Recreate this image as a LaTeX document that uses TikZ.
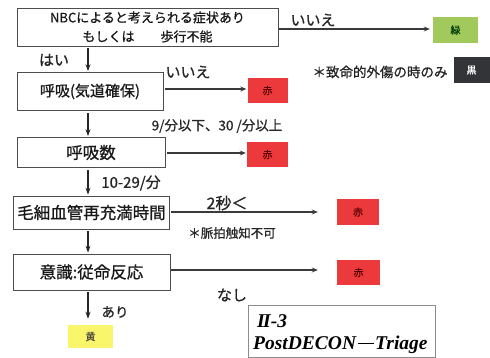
\documentclass[tikz,border=0pt]{standalone}
\usepackage{fontspec}
\setmainfont{Noto Sans CJK JP}[FakeBold=0.9]
\newfontfamily\titlefont{Liberation Serif}
\usetikzlibrary{arrows.meta}
\definecolor{tred}{HTML}{EC3A3C}
\definecolor{tgreen}{HTML}{A2C95B}
\definecolor{tyellow}{HTML}{F9F66B}
\definecolor{tblack}{HTML}{333438}
\definecolor{lnc}{HTML}{3A3A3A}
\begin{document}
\begin{tikzpicture}[x=1pt,y=-1pt,
  box/.style={draw=black!70,line width=0.7pt,inner sep=0pt,text=black!90,font=\fontsize{16.5}{18}\selectfont},
  tag/.style={inner sep=0pt,font=\fontsize{10}{12}\selectfont,minimum height=25pt},
  lab/.style={inner sep=0pt,text=black!85,font=\fontsize{15}{16}\selectfont},
  arr/.style={-{Stealth[length=6pt,width=5pt]},line width=1.2pt,draw=lnc},
  varr/.style={-{Stealth[length=7pt,width=5pt]},line width=1.5pt,draw=black!85}]
\useasboundingbox (0,0) rectangle (490,358);
\coordinate (vx) at (88,0);
% main boxes
\node[box,minimum width=261pt,minimum height=38pt,align=center,font=\fontsize{13}{19}\selectfont] (b1) at (147.5,27) {NBCによると考えられる症状あり\\もしくは　　歩行不能};
\node[box,minimum width=146pt,minimum height=38pt,font=\fontsize{15}{17}\selectfont] (b2) at (90,91.5) {呼吸(気道確保)};
\node[box,minimum width=148pt,minimum height=30pt] (b3) at (91,152.5) {呼吸数};
\node[box,minimum width=156pt,minimum height=33pt] (b4) at (91.5,212.5) {毛細血管再充満時間};
\node[box,minimum width=157pt,minimum height=36pt] (b5) at (91.5,272) {意識:従命反応};
% colour tags
\node[tag,fill=tgreen,minimum width=45pt,minimum height=26pt,text=green!25!black] (green) at (455.5,30) {緑};
\node[tag,fill=tblack,minimum width=36pt,minimum height=26pt,text=white] (blk) at (471.5,70) {黒};
\node[tag,fill=tred,minimum width=40pt,text=red!35!black] (red1) at (267.5,90.5) {赤};
\node[tag,fill=tred,minimum width=41pt,text=red!35!black] (red2) at (267.5,154.5) {赤};
\node[tag,fill=tred,minimum width=42pt,minimum height=26pt,text=red!35!black] (red3) at (358,212) {赤};
\node[tag,fill=tred,minimum width=43pt,text=red!35!black] (red4) at (358.5,272.5) {赤};
\node[tag,fill=tyellow,minimum width=45pt,minimum height=23pt,text=yellow!20!black] (yel) at (90.5,336.5) {黄};
% horizontal arrows
\draw[arr,shorten <=1pt,shorten >=3pt] (b1.east |- 0,29) -- (green.west |- 0,29);
\draw[arr,shorten <=2pt,shorten >=1pt] (b2.east |- 0,89) -- (red1.west |- 0,89);
\draw[arr,shorten <=2pt,shorten >=1pt] (b3.east |- 0,153) -- (red2.west |- 0,153);
\draw[arr,shorten <=1pt,shorten >=19pt] (b4.east |- 0,212) -- (red3.west |- 0,212);
\draw[arr,shorten <=1pt,shorten >=19pt] (b5.east |- 0,270) -- (red4.west |- 0,270);
% vertical arrows
\draw[varr,shorten <=2pt,shorten >=1pt] (b1.south -| vx) -- (b2.north -| vx);
\draw[varr,shorten <=2pt,shorten >=1pt] (b2.south -| vx) -- (b3.north -| vx);
\draw[varr,shorten <=2pt,shorten >=1pt] (b3.south -| vx) -- (b4.north -| vx);
\draw[varr,shorten <=2pt,shorten >=1pt] (b4.south -| vx) -- (b5.north -| vx);
\draw[varr,shorten <=2pt,shorten >=6pt] (b5.south -| vx) -- (yel.north -| vx);
% labels
\node[lab] (l1) at (54,60) {はい};
\node[lab] (l2) at (313,20) {いいえ};
\node[lab] (l3) at (188,72) {いいえ};
\node[lab,font=\fontsize{13.5}{15}\selectfont] (l4) at (380,72) {＊致命的外傷の時のみ};
\node[lab,font=\fontsize{13.5}{15}\selectfont] (l5) at (217,126) {9/分以下、30 /分以上};
\node[lab] (l6) at (131,183) {10-29/分};
\node[lab,font=\fontsize{16}{18}\selectfont] (l7) at (227,203) {2秒＜};
\node[lab,font=\fontsize{12.5}{14}\selectfont] (l8) at (232,233) {＊脈拍触知不可};
\node[lab] (l9) at (232,295) {なし};
\node[lab,font=\fontsize{13.5}{15}\selectfont] (l10) at (115,312) {あり};
% title box
\node[draw=black!45,line width=0.7pt,minimum width=187pt,minimum height=52pt,inner sep=0pt] (tb) at (341.5,331) {};
\node[anchor=west,inner sep=0pt,font=\titlefont\bfseries\itshape\fontsize{19.5}{20}\selectfont] (t1) at (257,321) {I\kern-0.08em I-3};
\node[anchor=west,inner sep=0pt,font=\titlefont\bfseries\itshape\fontsize{19.5}{20}\selectfont] (t2) at (253,345) {PostDECON\kern0.08em\rule[0.27em]{0.85em}{0.09em}\kern0.05em Triage};
\end{tikzpicture}
\end{document}
